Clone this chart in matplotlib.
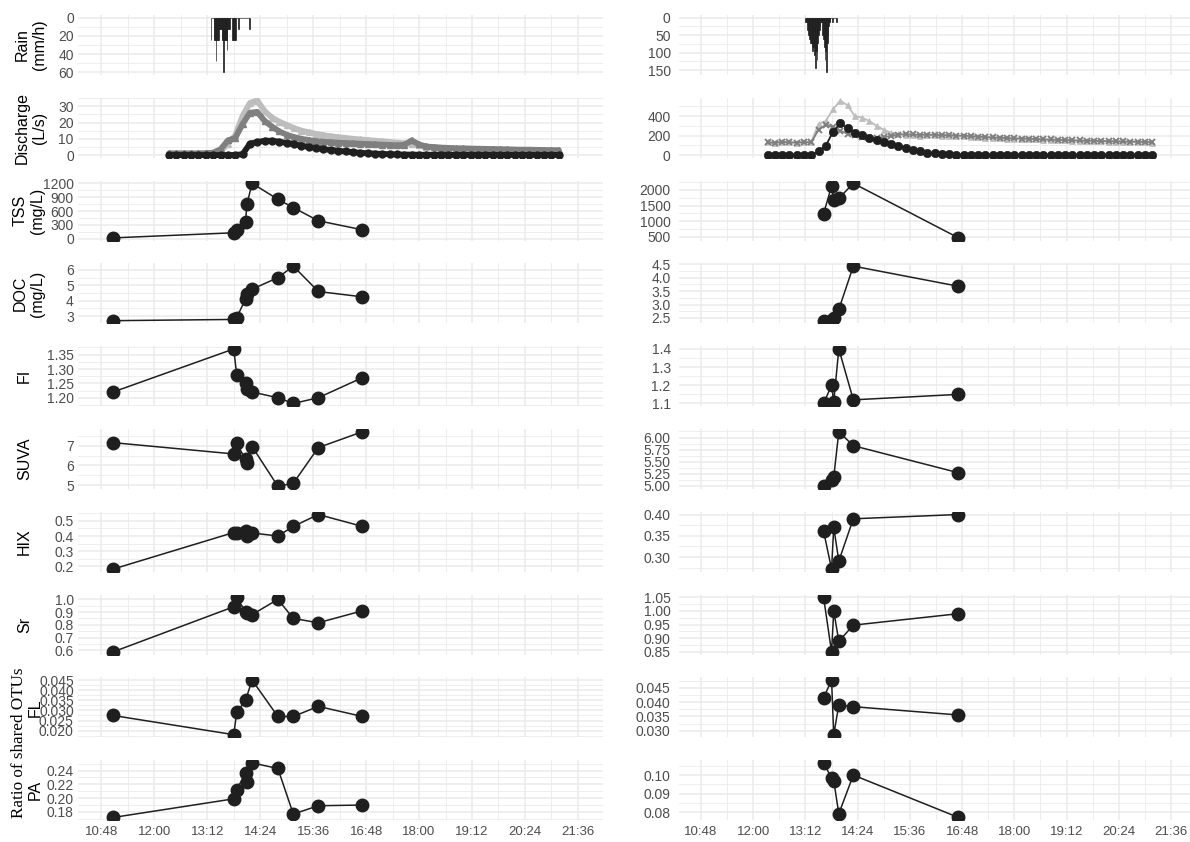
import numpy as np
import matplotlib
matplotlib.use("Agg")
import matplotlib.pyplot as plt
from matplotlib.ticker import MultipleLocator, FormatStrFormatter, FixedLocator

plt.rcParams["font.family"] = ["Liberation Sans", "DejaVu Sans"]


def hrs(s):
    h, m = s.split(":")
    return int(h) + int(m) / 60.0


# x axis (time of day)
xtick_labels = ["10:48", "12:00", "13:12", "14:24", "15:36",
                "16:48", "18:00", "19:12", "20:24", "21:36"]

# rain, one value per minute (mm/h)
rain_left_start = "13:17"
rain_left = [24, 0, 0, 0, 24, 24, 24, 48, 24, 24, 24, 12, 12, 12, 12, 24,
             24, 60, 24, 24, 24, 24, 36, 12, 12, 12, 0, 0, 0, 24, 24, 24,
             24, 24, 0, 0, 0, 12, 0, 0, 0, 0, 0, 0, 0, 0, 0, 0, 0, 0, 0,
             0, 12]
rain_right_start = "13:12"
rain_right = [12, 12, 12, 36, 48, 48, 60, 72, 72, 84, 96, 84, 108, 84, 144,
              96, 120, 72, 48, 36, 24, 12, 12, 12, 48, 60, 84, 120, 96, 156,
              72, 48, 24, 12, 12, 0, 0, 12, 0, 0, 0, 0, 0, 12]

# discharge every 10 min from 12:20 (L/s)
q_start = "12:20"
q_left_light = [1.0, 1.0, 1.0, 1.0, 1.0, 1.1, 1.3,
                2.0, 7.0, 12.0, 24.0, 32.0, 33.5, 27.0, 23.0, 20.5, 18.5,
                16.5, 15.0, 14.0, 13.0, 12.2,
                11.5, 11.0, 10.5, 10.0, 9.6, 9.2,
                8.8, 8.5, 8.0, 7.6, 7.2, 6.8,
                6.0, 5.1, 4.7, 4.4, 4.2, 4.0,
                3.9, 3.8, 3.7, 3.6, 3.5, 3.4,
                3.3, 3.2, 3.1, 3.1, 3.0, 2.9,
                2.8, 2.8]
q_left_mid = [1.0, 1.0, 1.0, 1.0, 1.0, 1.1, 1.5,
              3.5, 9.0, 10.5, 19.0, 26.0, 26.5, 21.0, 17.5, 14.5, 12.5,
              11.0, 10.0, 9.2, 8.6, 8.2,
              7.9, 7.6, 7.4, 7.2, 7.0, 6.8,
              6.6, 6.4, 6.2, 6.0, 6.3, 9.0,
              6.5, 5.3, 4.9, 4.6, 4.4, 4.2,
              4.1, 4.0, 3.9, 3.8, 3.7, 3.6,
              3.5, 3.4, 3.3, 3.3, 3.2, 3.1,
              3.0, 3.0]
q_left_black = [0, 0, 0, 0, 0, 0, 0,
                0, 0, 0.1, 0.5, 7.0, 8.0, 8.8, 8.8, 8.2, 7.4,
                6.6, 5.8, 5.0, 4.3, 3.7,
                3.1, 2.6, 2.2, 1.8, 1.4, 1.1,
                0.9, 0.7, 0.5, 0.4, 0.3, 0.3,
                0.2, 0.2, 0.2, 0.2, 0.1, 0.1,
                0.1, 0.1, 0.1, 0.1, 0.1, 0.1,
                0.1, 0.1, 0.1, 0.1, 0.1, 0.1,
                0.1, 0.1]
q_right_light = [130, 128, 132, 130, 128, 130, 135,
                 320, 350, 470, 560, 510, 400, 385, 350, 300, 260,
                 230, 215, 208, 203, 200,
                 203, 202, 200, 198, 195, 193,
                 190, 185, 180, 176, 172, 170,
                 167, 165, 162, 160, 157, 155,
                 152, 150, 148, 145, 143, 142,
                 140, 138, 137, 135, 134, 132,
                 130, 128]
q_right_mid = [130, 125, 135, 130, 128, 132, 130,
               260, 310, 285, 250, 220, 205, 190, 180, 178, 185,
               195, 210, 215, 212, 208,
               210, 208, 205, 205, 200, 198,
               195, 190, 185, 182, 178, 175,
               172, 170, 168, 165, 162, 160,
               157, 155, 153, 150, 148, 147,
               145, 143, 142, 140, 139, 137,
               135, 133]
q_right_black = [0, 0, 0, 0, 0, 0, 0,
                 40, 95, 240, 325, 275, 225, 205, 180, 155, 135,
                 110, 90, 70, 52, 38,
                 26, 17, 10, 6, 3, 1,
                 0, 0, 0, 0, 0, 0,
                 0, 0, 0, 0, 0, 0,
                 0, 0, 0, 0, 0, 0,
                 0, 0, 0, 0, 0, 0,
                 0, 0]

# grab samples
samp_left = ["11:04", "13:48", "13:52", "14:04", "14:06",
             "14:13", "14:48", "15:09", "15:43", "16:43"]
samp_right = ["13:37", "13:48", "13:51", "13:58", "14:18", "16:43"]

tss_left = [20, 130, 185, 365, 755, 1200, 855, 675, 390, 195]
doc_left = [2.70, 2.78, 2.90, 4.10, 4.45, 4.75, 5.50, 6.25, 4.60, 4.25]
fi_left = [1.22, 1.37, 1.28, 1.25, 1.23, 1.22, 1.20, 1.18, 1.20, 1.27]
suva_left = [7.15, 6.58, 7.12, 6.30, 6.10, 6.95, 4.95, 5.10, 6.90, 7.70]
hix_left = [0.183, 0.423, 0.423, 0.436, 0.401, 0.420, 0.400, 0.463, 0.541, 0.463]
sr_left = [0.587, 0.942, 1.016, 0.903, 0.893, 0.880, 1.000, 0.850, 0.816, 0.910]
fl_left = [0.0275, 0.018, 0.029, 0.035, np.nan, 0.045, 0.027, 0.027, 0.032, 0.027]
pa_left = [0.172, 0.199, 0.2125, 0.236, 0.224, 0.251, 0.243, 0.177, 0.189, 0.190]

tss_right = [1239, 2128, 1690, 1731, 2213, 468]
doc_right = [2.40, 2.43, 2.50, 2.82, 4.43, 3.68]
fi_right = [1.10, 1.20, 1.11, 1.40, 1.12, 1.15]
suva_right = [4.99, 5.13, 5.18, 6.12, 5.83, 5.27]
hix_right = [0.361, 0.272, 0.370, 0.291, 0.390, 0.400]
sr_right = [1.05, 0.85, 1.00, 0.889, 0.948, 0.99]
fl_right = [0.0415, 0.0477, 0.0286, 0.039, 0.0384, 0.0355]
pa_right = [0.1065, 0.0985, 0.097, 0.0793, 0.100, 0.0773]

# layout (pixels)
W, H = 1190, 842
ROW_TOP, ROW_STEP, ROW_H = 15, 82.8, 60
LEFT_X, LEFT_W = 78, 525
RIGHT_X, RIGHT_W = 679, 511
XLIM_LEFT = (10.27, 22.17)
XLIM_RIGHT = (10.294, 22.037)

GRID = "#ebebeb"
TICK = "#4d4d4d"
DARK = "#1f1f1f"
MID = "#7f7f7f"
LIGHT = "#bdbdbd"

fig = plt.figure(figsize=(W / 100, H / 100), dpi=100)
fig.patch.set_facecolor("white")


def add_panel(x0, w, row):
    top = ROW_TOP + row * ROW_STEP
    return fig.add_axes([x0 / W, 1 - (top + ROW_H) / H, w / W, ROW_H / H])


def expand(vals, f=0.05):
    v = np.asarray(vals, dtype=float)
    lo, hi = np.nanmin(v), np.nanmax(v)
    r = hi - lo
    return lo - f * r, hi + f * r


def style(ax, xlim, step, fmt, last, ypad):
    ax.set_xlim(*xlim)
    xt = [hrs(s) for s in xtick_labels]
    ax.xaxis.set_major_locator(FixedLocator(xt))
    ax.xaxis.set_minor_locator(MultipleLocator(0.6))
    if last:
        ax.set_xticks(xt, xtick_labels)
    else:
        ax.tick_params(labelbottom=False)
    ax.yaxis.set_major_locator(MultipleLocator(step))
    ax.yaxis.set_minor_locator(MultipleLocator(step / 2))
    ax.yaxis.set_major_formatter(FormatStrFormatter(fmt))
    ax.grid(which="major", color=GRID, lw=1.1)
    ax.grid(which="minor", color=GRID, lw=0.6)
    ax.set_axisbelow(True)
    for s in ax.spines.values():
        s.set_visible(False)
    ax.tick_params(which="both", length=0, colors=TICK)
    ax.tick_params(axis="y", pad=ypad, labelsize=10)
    ax.tick_params(axis="x", pad=4, labelsize=9.5)


def rain_panel(ax, start, vals, xlim, step, ypad):
    t = hrs(start) + np.arange(len(vals)) / 60.0
    ax.bar(t, vals, width=1 / 60.0, color=DARK, edgecolor=DARK, linewidth=0.5)
    lo, hi = expand([0] + list(vals))
    ax.set_ylim(hi, lo)
    style(ax, xlim, step, "%d", False, ypad)


def discharge_panel(ax, series, xlim, step, right, ypad):
    for vals, col, mk in series:
        t = hrs(q_start) + np.arange(len(vals)) * 10 / 60.0
        if right:
            ax.plot(t, vals, color=col, lw=1.3, marker=mk,
                    ms=6 if mk == "o" else 5,
                    mew=1.4 if mk == "x" else 0.5, mec=col, mfc=col)
        else:
            ax.plot(t, vals, color=col, lw=4.2, marker=mk, ms=5,
                    mec=col, mfc=col, solid_capstyle="round")
    allv = np.concatenate([np.asarray(v, float) for v, _, _ in series])
    ax.set_ylim(*expand(allv))
    style(ax, xlim, step, "%d", False, ypad)


def sample_panel(ax, times, vals, xlim, step, fmt, last, ypad):
    t = np.array([hrs(s) for s in times])
    v = np.asarray(vals, dtype=float)
    ok = ~np.isnan(v)
    ax.plot(t[ok], v[ok], color=DARK, lw=1.1, marker="o", ms=9)
    ax.set_ylim(*expand(v))
    style(ax, xlim, step, fmt, last, ypad)


# left column
PAD_L, PAD_R = 3, 6
ax = add_panel(LEFT_X, LEFT_W, 0)
rain_panel(ax, rain_left_start, rain_left, XLIM_LEFT, 20, PAD_L)
ax = add_panel(LEFT_X, LEFT_W, 1)
discharge_panel(ax, [(q_left_light, LIGHT, "^"), (q_left_mid, MID, "^"),
                     (q_left_black, DARK, "o")], XLIM_LEFT, 10, False, PAD_L)

left_rows = [
    (tss_left, 300, "%d"),
    (doc_left, 1, "%d"),
    (fi_left, 0.05, "%.2f"),
    (suva_left, 1, "%d"),
    (hix_left, 0.1, "%.1f"),
    (sr_left, 0.1, "%.1f"),
    (fl_left, 0.005, "%.3f"),
    (pa_left, 0.02, "%.2f"),
]
for i, (vals, step, fmt) in enumerate(left_rows):
    ax = add_panel(LEFT_X, LEFT_W, i + 2)
    sample_panel(ax, samp_left, vals, XLIM_LEFT, step, fmt,
                 i == len(left_rows) - 1, PAD_L)

# right column
ax = add_panel(RIGHT_X, RIGHT_W, 0)
rain_panel(ax, rain_right_start, rain_right, XLIM_RIGHT, 50, PAD_R)
ax = add_panel(RIGHT_X, RIGHT_W, 1)
discharge_panel(ax, [(q_right_light, LIGHT, "^"), (q_right_mid, MID, "x"),
                     (q_right_black, DARK, "o")], XLIM_RIGHT, 200, True, PAD_R)

right_rows = [
    (tss_right, 500, "%d"),
    (doc_right, 0.5, "%.1f"),
    (fi_right, 0.1, "%.1f"),
    (suva_right, 0.25, "%.2f"),
    (hix_right, 0.05, "%.2f"),
    (sr_right, 0.05, "%.2f"),
    (fl_right, 0.005, "%.3f"),
    (pa_right, 0.01, "%.2f"),
]
for i, (vals, step, fmt) in enumerate(right_rows):
    ax = add_panel(RIGHT_X, RIGHT_W, i + 2)
    sample_panel(ax, samp_right, vals, XLIM_RIGHT, step, fmt,
                 i == len(right_rows) - 1, PAD_R)

# y titles
titles = [("Rain\n(mm/h)", 15), ("Discharge\n(L/s)", 15), ("TSS\n(mg/L)", 13),
          ("DOC\n(mg/L)", 13), ("FI", 17), ("SUVA", 17), ("HIX", 17),
          ("Sr", 17), ("FL", 28), ("PA", 28)]
for row, (txt, xpx) in enumerate(titles):
    yc = ROW_TOP + row * ROW_STEP + ROW_H / 2
    fig.text(xpx / W, 1 - yc / H, txt, rotation=90, ha="left", va="center",
             fontsize=11.5, color="black", multialignment="center")

yc = ROW_TOP + 8.5 * ROW_STEP + ROW_H / 2 - 6
fig.text(11 / W, 1 - yc / H, "Ratio of shared OTUs", rotation=90, ha="left",
         va="center", fontsize=12.3, family=["Liberation Serif", "DejaVu Serif"])

fig.savefig("out.png", dpi=100, facecolor="white")
